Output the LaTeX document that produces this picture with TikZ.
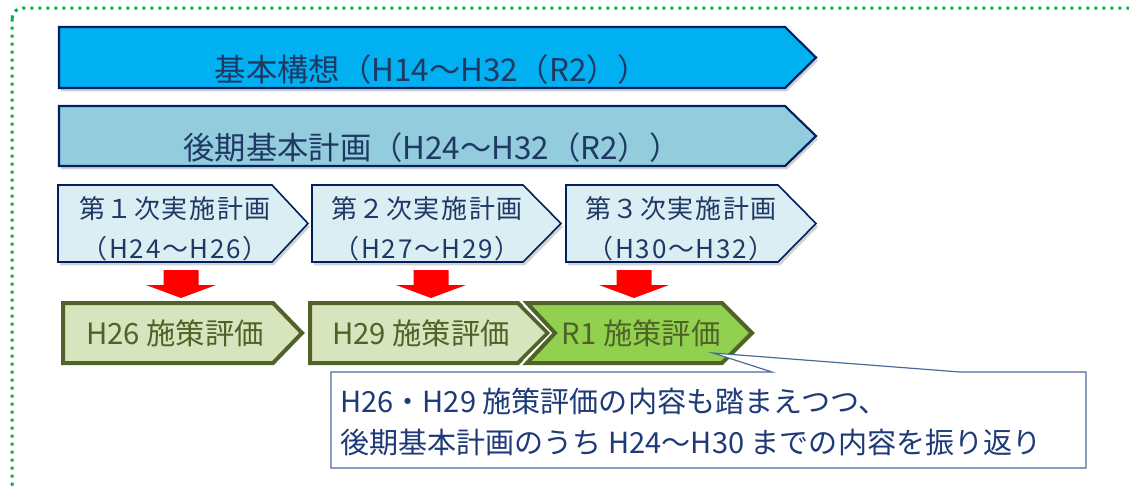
\documentclass[tikz,border=0pt]{standalone}
\usepackage{fontspec}
\setmainfont{Noto Sans CJK JP}
\newfontfamily\planfont[LetterSpace=6]{Noto Sans CJK JP}
\usetikzlibrary{shadows,calc}
\definecolor{dotgreen}{HTML}{00B050}
\definecolor{navyline}{HTML}{002060}
\definecolor{navytext}{HTML}{1F3864}
\definecolor{bigblue}{HTML}{00B0F0}
\definecolor{paleblue}{HTML}{93CDDD}
\definecolor{iceblue}{HTML}{DAEEF3}
\definecolor{olive}{HTML}{4F6228}
\definecolor{palegreen}{HTML}{D7E4BD}
\definecolor{limegreen}{HTML}{92D050}
\definecolor{calloutline}{HTML}{4A6C9B}
\definecolor{callouttext}{HTML}{1E3A78}
\tikzset{
  bigarrow/.style={draw=navyline, line width=1.6pt, line join=miter,
    drop shadow={opacity=0.35, shadow xshift=1.5pt, shadow yshift=-2.5pt}},
  planbox/.style={draw=navyline, line width=1.2pt, fill=iceblue,
    drop shadow={opacity=0.35, shadow xshift=1.5pt, shadow yshift=-2.5pt}},
  evalbox/.style={draw=olive, line width=3pt, line join=miter},
  redarrow/.style={fill=red, draw=none},
  callout/.style={draw=calloutline, line width=0.9pt, fill=white},
  toptext/.style={text=navytext, font=\fontsize{23.5pt}{28pt}\selectfont, inner sep=0pt},
  plantext/.style={text=navytext, font=\planfont\fontsize{19.5pt}{23pt}\selectfont, inner sep=0pt},
  evtext/.style={text=olive, font=\fontsize{22pt}{26pt}\selectfont, inner sep=0pt},
  notetext/.style={text=callouttext, font=\fontsize{21.8pt}{26pt}\selectfont, inner sep=0pt, anchor=west}
}
\begin{document}
\begin{tikzpicture}[x=0.75pt, y=-0.75pt]
\useasboundingbox (0,0) rectangle (1129,486);
\clip (0,0) rectangle (1129,486);
\fill[white] (0,0) rectangle (1129,486);

% dotted frame
\draw[dotgreen, line width=2.25pt, dash pattern=on 2.25pt off 3.75pt, rounded corners=8pt]
  (12,8) rectangle (1145,494);

% top arrows
\filldraw[bigarrow, fill=bigblue] (59,27) -- (785,27) -- (816,57.5) -- (785,88) -- (59,88) -- cycle;
\node[toptext] (vision) at (432,70) {基本構想（H14～H32（R2））};
\filldraw[bigarrow, fill=paleblue] (59,106) -- (785,106) -- (816,136) -- (785,166) -- (59,166) -- cycle;
\node[toptext] (latter) at (432,148) {後期基本計画（H24～H32（R2））};

% implementation plans
\foreach \L/\R/\T in {58/272/308, 312/523/561, 566/778/816}{
  \filldraw[planbox] (\L,185) -- (\R,185) -- (\T,223.5) -- (\R,262) -- (\L,262) -- cycle;
}
\node[plantext] (p1a) at (175,209) {第１次実施計画};
\node[plantext] (p1b) at (175,249) {（H24～H26）};
\node[plantext] (p2a) at (427,209) {第２次実施計画};
\node[plantext] (p2b) at (427,249) {（H27～H29）};
\node[plantext] (p3a) at (681,209) {第３次実施計画};
\node[plantext] (p3b) at (681,249) {（H30～H32）};

% red arrows
\foreach \c in {181,431,634}{
  \fill[redarrow] (\c-17.5,270) -- (\c+17.5,270) -- (\c+17.5,285) -- (\c+35,285)
    -- (\c,298) -- (\c-35,285) -- (\c-17.5,285) -- cycle;
}

% evaluation boxes
\filldraw[evalbox, fill=palegreen] (63,303) -- (273,303) -- (302,333) -- (273,363) -- (63,363) -- cycle;
\filldraw[evalbox, fill=palegreen] (310,303) -- (518,303) -- (548,333) -- (518,363) -- (310,363) -- cycle;
\draw[white, line width=6pt, line join=miter] (526,303) -- (556,333) -- (526,363);
\filldraw[evalbox, fill=limegreen] (527,303) -- (722,303) -- (752,333) -- (722,363) -- (527,363) -- (555,333) -- cycle;
\node[evtext] (e1) at (175,333) {H26 施策評価};
\node[evtext] (e2) at (421,333) {H29 施策評価};
\node[evtext] (e3) at (641,333) {R1 施策評価};

% callout
\filldraw[callout] (331,372) -- (772,372) -- (713,353) -- (960,372) -- (1086,372) -- (1086,468) -- (331,468) -- cycle;
\node[notetext] (n1) at (340,401) {H26・H29 施策評価の内容も踏まえつつ、};
\node[notetext] (n2) at (340,443) {後期基本計画のうち H24～H30 までの内容を振り返り};
\end{tikzpicture}
\end{document}
